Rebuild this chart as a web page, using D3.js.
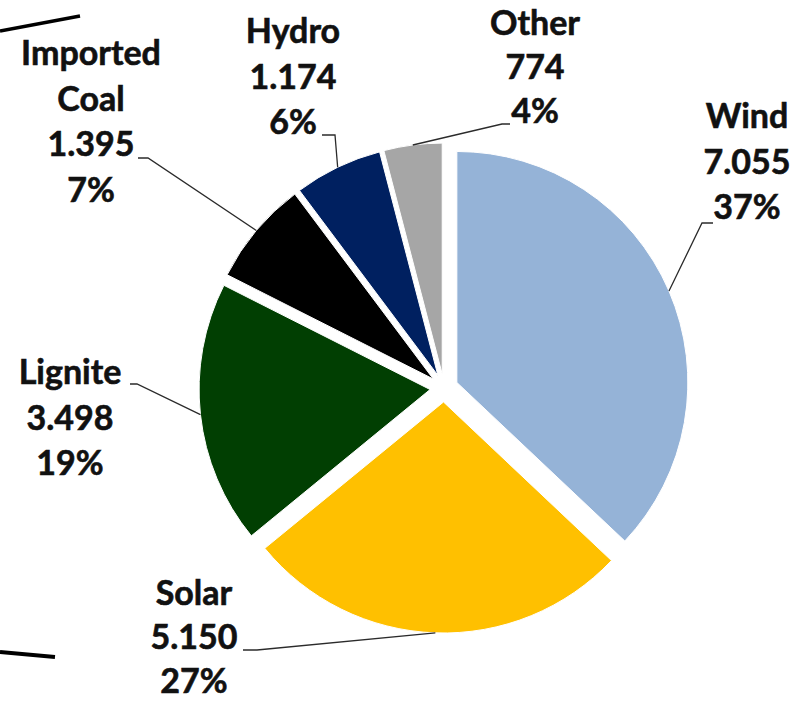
<!DOCTYPE html>
<html>
<head>
<meta charset="utf-8">
<script src="https://cdn.jsdelivr.net/npm/d3@7"></script>
<style>
  html, body { margin: 0; padding: 0; background: #ffffff; }
  svg { display: block; }
  text { font-family: Lato, "Open Sans", sans-serif; font-weight: 700; fill: #111; stroke: #111; stroke-width: 0.6px; }
</style>
</head>
<body>
<svg id="chart" width="805" height="701"></svg>
<script>
// Electricity generation by source (GWh)
const categories = ["Wind", "Solar", "Lignite", "Imported Coal", "Hydro", "Other"];
const values = [7055, 5150, 3498, 1395, 1174, 774];
const valueLabels = ["7.055", "5.150", "3.498", "1.395", "1.174", "774"];
const percentLabels = ["37%", "27%", "19%", "7%", "6%", "4%"];
const nameLines = [["Wind"], ["Solar"], ["Lignite"], ["Imported", "Coal"], ["Hydro"], ["Other"]];
const colors = ["#95b3d7", "#ffc000", "#013f02", "#000000", "#002060", "#a6a6a6"];

// Label placement: centre x, first baseline y, line spacing, and the leader-line stub (start x, end x, y)
const labelLayout = [
  { x: 747, y: 128, step: 45.5, stub: [713, 702, 223] },
  { x: 194, y: 605, step: 44,   stub: [243, 257, 650] },
  { x: 70,  y: 384, step: 45.5, stub: [130, 137, 384] },
  { x: 91,  y: 65,  step: 45.5, stub: [138, 148, 158] },
  { x: 293, y: 43,  step: 45.5, stub: [322, 335, 135] },
  { x: 535, y: 35,  step: 44,   stub: [510, 502, 124] }
];

const width = 805, height = 701;
const cx = 444, cy = 388;
const radius = 231;
const explode = 14;

const svg = d3.select("#chart");

const pie = d3.pie().sort(null).value(d => d.value).startAngle(0).endAngle(2 * Math.PI);
const arc = d3.arc().innerRadius(0).outerRadius(radius);

const data = categories.map((c, i) => ({ name: c, value: values[i], i }));
const arcs = pie(data);

// offset of each exploded slice along its bisector
function offset(a) {
  const mid = (a.startAngle + a.endAngle) / 2;
  return [explode * Math.sin(mid), -explode * Math.cos(mid)];
}

const g = svg.append("g").attr("transform", `translate(${cx},${cy})`);

g.selectAll("path.slice")
  .data(arcs)
  .join("path")
  .attr("class", "slice")
  .attr("transform", a => { const o = offset(a); return `translate(${o[0]},${o[1]})`; })
  .attr("d", arc)
  .attr("fill", a => colors[a.data.i])
  .attr("stroke", "#ffffff")
  .attr("stroke-width", 1);

// leader lines: label stub, then to the midpoint of the slice's outer edge
arcs.forEach(a => {
  const L = labelLayout[a.data.i];
  const o = offset(a);
  const mid = (a.startAngle + a.endAngle) / 2;
  const ex = cx + o[0] + radius * Math.sin(mid);
  const ey = cy + o[1] - radius * Math.cos(mid);
  svg.append("path")
    .attr("d", d3.line()([[L.stub[0], L.stub[2]], [L.stub[1], L.stub[2]], [ex, ey]]))
    .attr("fill", "none")
    .attr("stroke", "#2b2b2b")
    .attr("stroke-width", 1.3);
});

// data labels: name, value, percentage
arcs.forEach(a => {
  const i = a.data.i;
  const L = labelLayout[i];
  const lines = nameLines[i].concat([valueLabels[i], percentLabels[i]]);
  const t = svg.append("text")
    .attr("text-anchor", "middle")
    .attr("font-size", 34);
  lines.forEach((s, k) => {
    t.append("tspan").attr("x", L.x).attr("y", L.y + k * L.step).text(s);
  });
});

// cropped frame strokes along the left edge
svg.append("line").attr("x1", 0).attr("y1", 31).attr("x2", 80).attr("y2", 16)
  .attr("stroke", "#000").attr("stroke-width", 3.5);
svg.append("line").attr("x1", 0).attr("y1", 652).attr("x2", 55).attr("y2", 657)
  .attr("stroke", "#000").attr("stroke-width", 4);
</script>
</body>
</html>
